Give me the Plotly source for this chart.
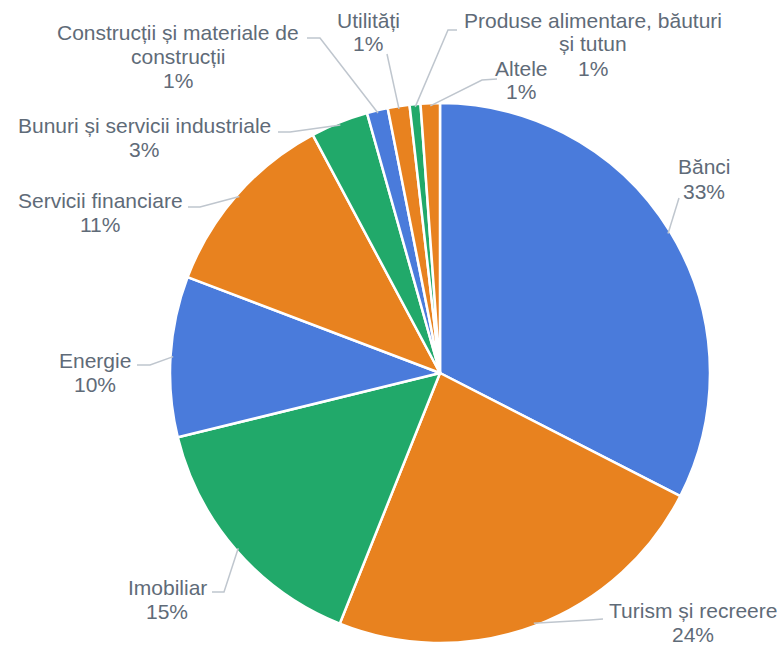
import math
import plotly.graph_objects as go

# Data
sectors = ["Bănci", "Turism și recreere", "Imobiliar", "Energie", "Servicii financiare",
           "Bunuri și servicii industriale", "Construcții și materiale de construcții",
           "Utilități", "Produse alimentare, băuturi și tutun", "Altele"]
shares = [32.5, 23.5, 15.1, 9.6, 11.4, 3.45, 1.25, 1.3, 0.65, 1.15]
label_lines = [["Bănci"], ["Turism și recreere"], ["Imobiliar"], ["Energie"], ["Servicii financiare"],
               ["Bunuri și servicii industriale"], ["Construcții și materiale de", "construcții"],
               ["Utilități"], ["Produse alimentare, băuturi", "și tutun"], ["Altele"]]
colors = ["#4A7BDB", "#E8821F", "#21A96A", "#4A7BDB", "#E8821F",
          "#21A96A", "#4A7BDB", "#E8821F", "#21A96A", "#E8821F"]

# Layout (pixels)
W, H = 781, 645
CX, CY, R = 440, 373, 270
# label centre (first line) and leader points near text
label_pos = [(704, 167), (693, 610), (167, 587), (95, 360), (100, 200),
             (144, 126), (178, 33), (368, 20), (593, 20), (521, 68)]
leader_pts = [[(679, 198)], [(603, 619), (590, 620)], [(212, 592), (224, 592)],
              [(137, 365), (150, 365)], [(188, 207), (200, 207)], [(278, 132), (290, 132)],
              [(307, 38), (320, 38)], [(387, 54)], [(457, 30), (448, 30)], [(497, 79), (482, 80)]]
LINE_H = 24
TXT = "#5F6B78"


def px(x):
    return x / W


def py(y):
    return 1 - y / H


fig = go.Figure(go.Pie(
    labels=sectors,
    values=shares,
    sort=False,
    direction="clockwise",
    rotation=0,
    textinfo="none",
    hoverinfo="label+percent",
    marker=dict(colors=colors, line=dict(color="white", width=2.5)),
    domain=dict(x=[(CX - R) / W, (CX + R) / W], y=[py(CY + R), py(CY - R)]),
))

total = sum(shares)
annotations = []
shapes = []
cum = 0
for i, v in enumerate(shares):
    mid = (cum + v / 2) / total * 2 * math.pi
    cum += v
    ex = CX + R * 0.99 * math.sin(mid)
    ey = CY - R * 0.99 * math.cos(mid)
    pct = f"{round(v / total * 100)}%"
    lines = label_lines[i] + [pct]
    lx, ly = label_pos[i]
    for j, t in enumerate(lines):
        annotations.append(dict(
            x=px(lx), y=py(ly + j * LINE_H), xref="paper", yref="paper",
            text=t, showarrow=False, xanchor="center", yanchor="middle",
            font=dict(size=21, color=TXT),
        ))
    pts = leader_pts[i] + [(ex, ey)]
    path = "M " + " L ".join(f"{px(a):.5f},{py(b):.5f}" for a, b in pts)
    shapes.append(dict(type="path", path=path, xref="paper", yref="paper",
                       line=dict(color="#BFC6CE", width=1.5)))

fig.update_layout(
    width=W, height=H,
    margin=dict(l=0, r=0, t=0, b=0),
    showlegend=False,
    paper_bgcolor="white",
    font=dict(family="Liberation Sans, Arial, sans-serif"),
    annotations=annotations,
    shapes=shapes,
)

# drop the default page margin so the figure fills the window
fig.write_html("out.html", config={"displayModeBar": False},
               post_script="document.body.style.margin='0';")
